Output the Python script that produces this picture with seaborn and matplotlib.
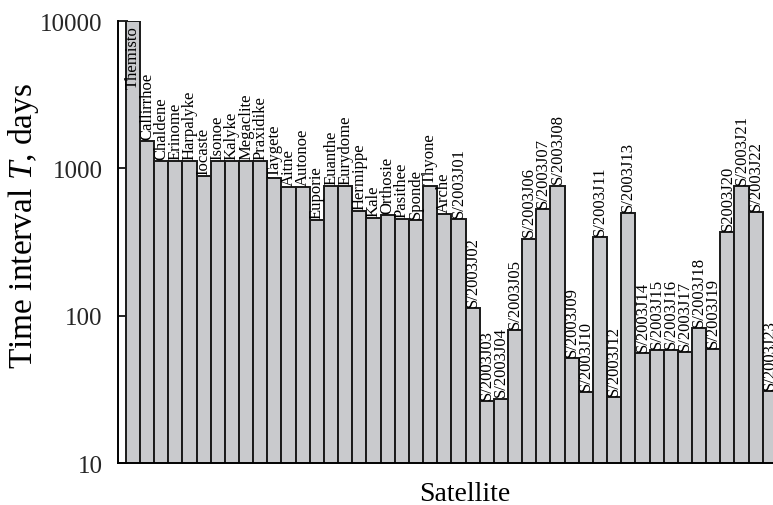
import matplotlib
matplotlib.use("Agg")
import matplotlib.pyplot as plt
import matplotlib.ticker as mticker
import seaborn as sns
import pandas as pd

# Jovian irregular satellites and their time intervals T (days)
satellites = [
    "Themisto", "Callirrhoe", "Chaldene", "Erinome", "Harpalyke", "Iocaste",
    "Isonoe", "Kalyke", "Megaclite", "Praxidike", "Taygete", "Aitne",
    "Autonoe", "Euporie", "Euanthe", "Eurydome", "Hermippe", "Kale",
    "Orthosie", "Pasithee", "Sponde", "Thyone", "Arche",
    "S/2003J01", "S/2003J02", "S/2003J03", "S/2003J04", "S/2003J05",
    "S/2003J06", "S/2003J07", "S/2003J08", "S/2003J09", "S/2003J10",
    "S/2003J11", "S/2003J12", "S/2003J13", "S/2003J14", "S/2003J15",
    "S/2003J16", "S/2003J17", "S/2003J18", "S/2003J19", "S2003J20",
    "S/2003J21", "S/2003J22", "S/2003J23",
]
interval_days = [
    10000, 1535, 1120, 1120, 1120, 887,
    1120, 1120, 1120, 1120, 855, 743,
    743, 448, 762, 762, 513, 457,
    479, 450, 445, 764, 492,
    452, 113, 26.4, 27.4, 80,
    334, 529, 764, 51.5, 30.3,
    340, 28.0, 494, 56.0, 58.5,
    58.5, 56.6, 82.4, 59, 371,
    762, 507, 31,
]
y_ticks = [10, 100, 1000, 10000]

sns.set_theme(style="white")
plt.rcParams["font.family"] = ["Liberation Serif", "DejaVu Serif"]
plt.rcParams["mathtext.fontset"] = "custom"
plt.rcParams["mathtext.rm"] = "Liberation Serif"
plt.rcParams["mathtext.it"] = "Liberation Serif:italic"

df = pd.DataFrame({"satellite": satellites, "T": interval_days})

fig = plt.figure(figsize=(7.73, 5.06), dpi=100)
ax = fig.add_axes([0.1527, 0.083, 0.8473, 0.8735])

sns.barplot(data=df, x="satellite", y="T", color="#c9cacd", saturation=1,
            edgecolor="#1a1a1a", linewidth=1.4, width=1.0, ax=ax)

ax.set_yscale("log")
ax.set_ylim(10, 10000)
ax.set_xlim(-1.044, 45.22)

ax.yaxis.set_major_locator(mticker.FixedLocator(y_ticks))
ax.yaxis.set_major_formatter(mticker.FixedFormatter([str(t) for t in y_ticks]))
ax.yaxis.set_minor_locator(mticker.NullLocator())
ax.tick_params(axis="y", which="major", direction="in", length=7, width=1.2,
               color="black", labelsize=18, pad=11, left=True)
ax.set_xticks([])

for side in ("top", "right"):
    ax.spines[side].set_visible(False)
for side in ("left", "bottom"):
    ax.spines[side].set_color("black")
    ax.spines[side].set_linewidth(1.4)

# satellite names written vertically at the top of each bar
for i, (name, val) in enumerate(zip(satellites, interval_days)):
    if val >= 9000:
        ax.annotate(name, xy=(i, val), xytext=(0, -3), textcoords="offset points",
                    rotation=90, ha="center", va="top", fontsize=12,
                    color="black")
    else:
        ax.annotate(name, xy=(i, val), xytext=(0, 1.5), textcoords="offset points",
                    rotation=90, ha="center", va="bottom", fontsize=12,
                    color="black")

ax.set_ylabel("Time interval $\\mathit{T}$, days", fontsize=24, color="black")
ax.yaxis.set_label_coords(-0.117, 0.538)
ax.set_xlabel("Satellite", fontsize=20, color="black")
ax.xaxis.set_label_coords(0.53, -0.04)

fig.savefig("out.png", dpi=100)
